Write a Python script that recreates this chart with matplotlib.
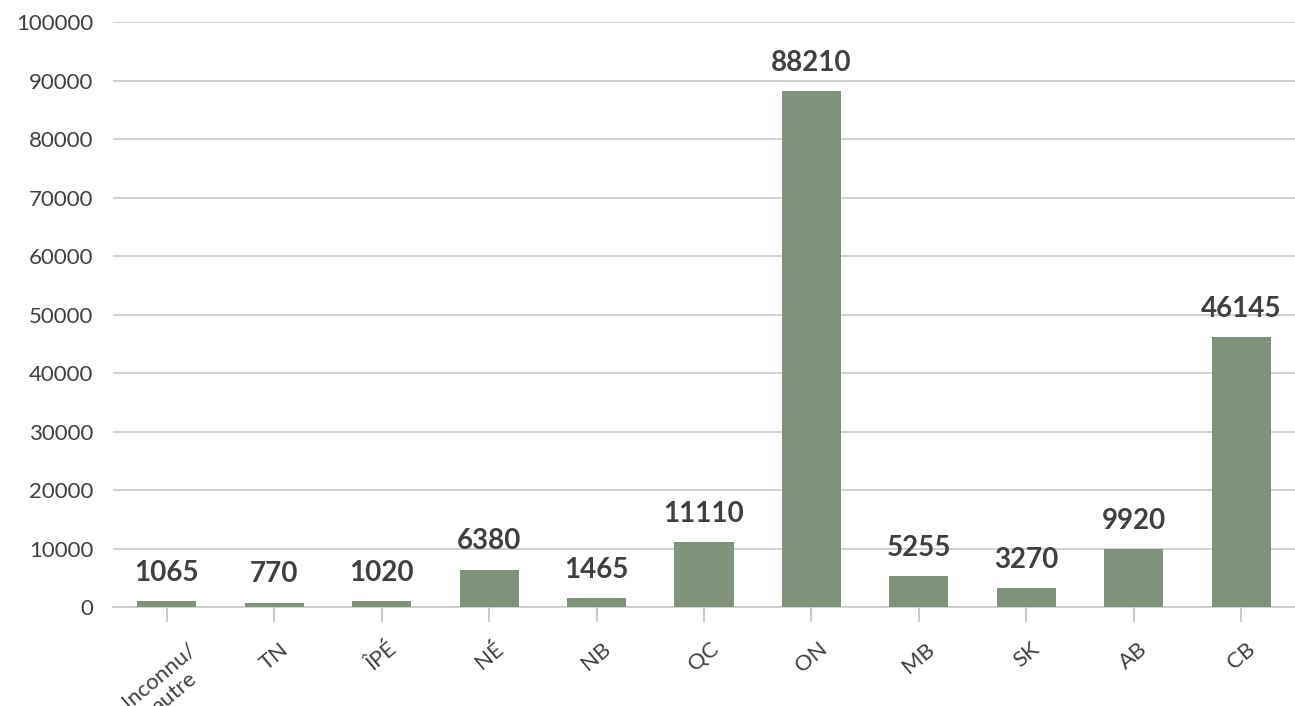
import matplotlib.pyplot as plt

plt.rcParams["font.family"] = ["Lato", "DejaVu Sans"]

REGIONS = ["Inconnu/\nautre", "TN", "ÎPÉ", "NÉ", "NB", "QC", "ON", "MB", "SK", "AB", "CB"]
COUNTS = [1065, 770, 1020, 6380, 1465, 11110, 88210, 5255, 3270, 9920, 46145]
Y_TICKS = [0, 10000, 20000, 30000, 40000, 50000, 60000, 70000, 80000, 90000, 100000]

BAR_COLOR = "#7f937a"
TEXT_COLOR = "#404040"
GRID_COLOR = "#cacaca"


def run() -> None:
    fig = plt.figure(figsize=(12.95, 7.06), dpi=100)
    ax = fig.add_axes((0.0873, 0.1402, 0.9127, 0.8286))

    x = range(len(REGIONS))
    ax.bar(x, COUNTS, width=0.55, color=BAR_COLOR, zorder=3)

    for xi, v in zip(x, COUNTS):
        ax.annotate(f"{v}", (xi, v), xytext=(0, 11), textcoords="offset points",
                    ha="center", va="bottom", fontsize=20, fontweight="bold",
                    color=TEXT_COLOR)

    ax.set_xlim(-0.5, len(REGIONS) - 0.5)
    ax.set_ylim(0, 100000)
    ax.set_yticks(Y_TICKS, labels=[str(t) for t in Y_TICKS])
    ax.set_xticks(list(x), labels=REGIONS)
    plt.setp(ax.get_xticklabels(), rotation=40, ha="center", va="top",
             multialignment="center", fontsize=16, color=TEXT_COLOR)
    plt.setp(ax.get_yticklabels(), fontsize=16, color=TEXT_COLOR)

    ax.tick_params(axis="y", length=0, pad=14)
    ax.tick_params(axis="x", length=11, width=1.5, color=GRID_COLOR, pad=12)

    ax.grid(axis="y", color=GRID_COLOR, linewidth=1.2, zorder=0)
    for side in ["top", "right", "left"]:
        ax.spines[side].set_visible(False)
    ax.spines["bottom"].set_color(GRID_COLOR)
    ax.spines["bottom"].set_linewidth(1.2)

    fig.savefig("out.png", dpi=100)
    plt.close(fig)


if __name__ == "__main__":
    run()
